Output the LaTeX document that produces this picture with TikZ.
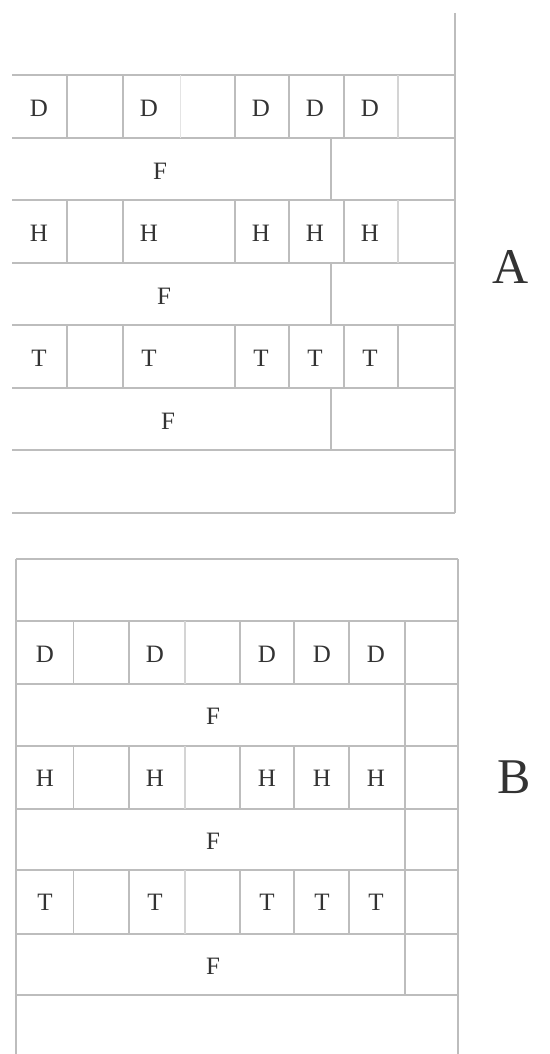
\documentclass[tikz,border=0pt]{standalone}
\usepackage{fontspec}
\setmainfont{Liberation Serif}
\definecolor{gridc}{HTML}{BDBDBD}
\definecolor{lightc}{HTML}{D4D4D4}
\definecolor{faintc}{HTML}{E4E4E4}
\definecolor{txtc}{HTML}{333333}
\tikzset{
  grid/.style={draw=gridc, line width=1.1pt},
  light/.style={draw=lightc, line width=1.1pt},
  faint/.style={draw=faintc, line width=1pt},
  cell/.style={text=txtc, inner sep=0pt, font=\fontsize{25}{28}\selectfont},
  big/.style={text=txtc, inner sep=0pt, font=\fontsize{50}{56}\selectfont}
}
\begin{document}
\begin{tikzpicture}[x=1pt,y=-1pt]
\useasboundingbox (0,0) rectangle (549,1054);
% ---------------- Panel A ----------------
\foreach \y in {75,138,200,263,325,388,450,513} \draw[grid] (12,\y) -- (455,\y);
\draw[grid] (455,13) -- (455,513);
% letter rows
\foreach \a/\b in {75/138,200/263,325/388}{
  \foreach \x in {67,123,235,289,344} \draw[grid] (\x,\a) -- (\x,\b);
}
\draw[faint] (180,75) -- (180,138);
\draw[light] (398,75) -- (398,138);
\draw[light] (398,200) -- (398,263);
\draw[grid] (398,325) -- (398,388);
% F rows
\foreach \a/\b in {138/200,263/325,388/450} \draw[grid] (331,\a) -- (331,\b);
% labels A
\foreach \l/\yy/\n in {D/108/ad,H/233/ah,T/358/at}{
  \node[cell] (\n1) at (39,\yy) {\l};
  \node[cell] (\n2) at (149,\yy) {\l};
  \node[cell] (\n3) at (261,\yy) {\l};
  \node[cell] (\n4) at (315,\yy) {\l};
  \node[cell] (\n5) at (370,\yy) {\l};
}
\node[cell] (af1) at (160,171) {F};
\node[cell] (af2) at (164,296) {F};
\node[cell] (af3) at (168,421) {F};
\node[big] (labA) at (511,267) {A};
% ---------------- Panel B ----------------
\foreach \y in {559,621,684,746,809,870,934,995} \draw[grid] (16,\y) -- (458,\y);
\draw[grid] (16,559) -- (16,1054);
\draw[grid] (458,559) -- (458,1054);
\foreach \a/\b in {621/684,746/809,870/934}{
  \foreach \x in {73.5,129,240,294,349} \draw[grid] (\x,\a) -- (\x,\b);
  \draw[light] (185,\a) -- (185,\b);
}
\draw[grid] (405,621) -- (405,995);
\foreach \l/\yy/\n in {D/654/bd,H/778/bh,T/902/bt}{
  \node[cell] (\n1) at (45,\yy) {\l};
  \node[cell] (\n2) at (155,\yy) {\l};
  \node[cell] (\n3) at (267,\yy) {\l};
  \node[cell] (\n4) at (322,\yy) {\l};
  \node[cell] (\n5) at (376,\yy) {\l};
}
\node[cell] (bf1) at (213,716) {F};
\node[cell] (bf2) at (213,841) {F};
\node[cell] (bf3) at (213,966) {F};
\node[big] (labB) at (514,777) {B};
\end{tikzpicture}
\end{document}
